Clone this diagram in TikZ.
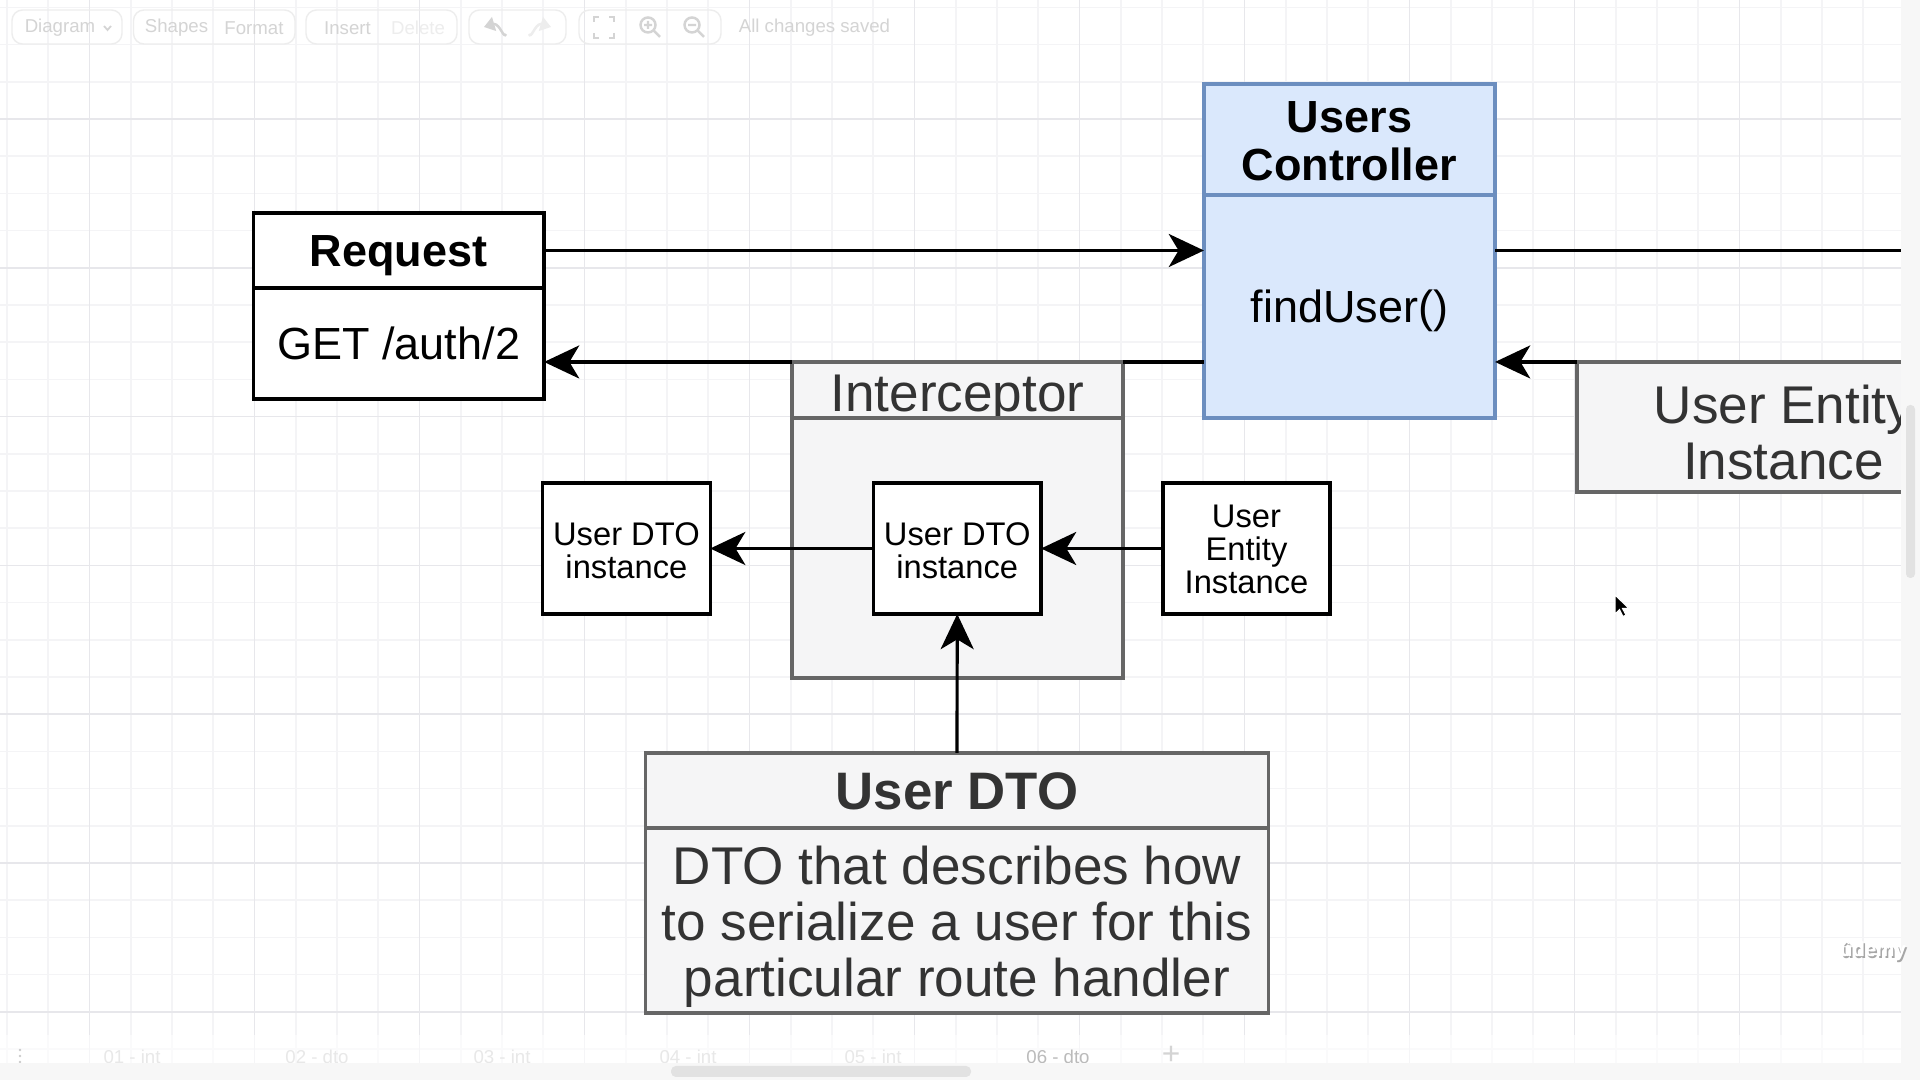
\documentclass[tikz,border=0pt]{standalone}
\usepackage{fontspec}
\setmainfont{Liberation Sans}
\usetikzlibrary{arrows.meta,calc,positioning}
\definecolor{ctrlfill}{HTML}{DAE8FC}
\definecolor{ctrldraw}{HTML}{6C8EBF}
\definecolor{greyfill}{HTML}{F5F5F6}
\definecolor{greydraw}{HTML}{666666}
\definecolor{greytext}{HTML}{333333}
\definecolor{gridminor}{HTML}{F4F4F6}
\definecolor{gridmajor}{HTML}{E7E7EB}
\definecolor{uitext}{HTML}{D4D4D4}
\definecolor{uifaint}{HTML}{EDEDED}
\definecolor{tabcur}{HTML}{BBBBBB}
\definecolor{barfill}{HTML}{F7F7F7}
\definecolor{thumbfill}{HTML}{E2E2E2}
\tikzset{
    mybox/.style={draw=black,fill=white,line width=0.95pt,outer sep=0pt,inner sep=0pt,align=center,text depth=0pt},
    mygrey/.style={draw=greydraw,fill=greyfill,text=greytext,line width=0.95pt,outer sep=0pt,inner sep=0pt,align=center,text depth=0pt},
    myctrl/.style={draw=ctrldraw,fill=ctrlfill,line width=0.95pt,outer sep=0pt,inner sep=0pt,align=center,text depth=0pt},
    myarrow/.style={line width=0.9pt,-{Stealth[length=10pt,width=9.4pt,inset=2.8pt]}},
    myline/.style={line width=0.9pt},
    bigfont/.style={font=\fontsize{12.8}{13.9}\selectfont,text height=9.2pt},
    bigbold/.style={font=\fontsize{12.8}{13.9}\selectfont\bfseries,text height=9.2pt},
    hugefont/.style={font=\fontsize{15.1}{15.9}\selectfont,text height=10.8pt},
    hugebold/.style={font=\fontsize{15}{15.9}\selectfont\bfseries,text height=10.8pt},
    smallfont/.style={font=\fontsize{9.3}{9.4}\selectfont,text height=17.2pt},
    uifont/.style={font=\fontsize{5.3}{6}\selectfont,text=uitext,inner sep=0pt},
    uibutton/.style={draw=uifaint,line width=0.4pt},
    uiicon/.style={draw=uitext,line width=0.7pt}
}
\begin{document}
\begin{tikzpicture}[x=0.01cm,y=-0.01cm]
  \useasboundingbox (0,0) rectangle (1920,1080);
  \fill[white] (0,0) rectangle (1920,1080);
  % canvas grid
  \begin{scope}
    \clip (0,0) rectangle (1901,1063);
    \foreach \k in {0,...,46} \draw[gridminor,line width=0.5pt] ({7+41.25*\k},0) -- ++(0,1063);
    \foreach \k in {0,...,28} \draw[gridminor,line width=0.5pt] (0,{7.4+37.2*\k}) -- ++(1901,0);
    \foreach \k in {0,...,11} \draw[gridmajor,line width=0.5pt] ({89.5+165*\k},0) -- ++(0,1063);
    \foreach \k in {0,...,6} \draw[gridmajor,line width=0.5pt] (0,{119+148.8*\k}) -- ++(1901,0);
  \end{scope}

  % editor toolbar
  \foreach \a/\b in {12/122,133.5/295,306/457,469/566,579/721}
    \draw[uibutton,rounded corners=3pt] (\a,10) rectangle (\b,44);
  \node[uifont] (mDiagram) at (60,28) {Diagram};
  \draw[uiicon,line width=0.5pt] (104,26) -- (107.5,30) -- (111,26);
  \node[uifont] (mShapes) at (176.5,28) {Shapes};
  \node[uifont] (mFormat) at (254,28) {Format};
  \node[uifont] (mInsert) at (347.5,28) {Insert};
  \node[uifont,text=uifaint] (mDelete) at (418,28) {Delete};
  \draw[uiicon,-{Triangle[length=3pt,width=4pt]}] (506,34) to[out=-110,in=0] (494,24) -- (484,27);
  \draw[uiicon,draw=uifaint,-{Triangle[length=3pt,width=4pt]}] (529,34) to[out=-70,in=180] (541,24) -- (551,27);
  \draw[uiicon] (594,22) -- (594,17) -- (599,17) (609,17) -- (614,17) -- (614,22)
                (614,33) -- (614,38) -- (609,38) (599,38) -- (594,38) -- (594,33);
  \draw[uiicon] (648,25) circle (7.5) (653.5,30.5) -- (660,37) (644,25) -- (652,25) (648,21) -- (648,29);
  \draw[uiicon] (692,25) circle (7.5) (697.5,30.5) -- (704,37) (688,25) -- (696,25);
  \node[uifont] (mSaved) at (814.5,28) {All changes saved};

  % main diagram
  \node[mybox,bigbold,minimum width=2.905cm,minimum height=0.75cm] (req) at (398.75,250.5) {Request};
  \node[mybox,bigfont,minimum width=2.905cm,minimum height=1.11cm,below=0pt of req] (reqbody) {GET /auth/2};

  \node[myctrl,bigbold,text height=23.6pt,minimum width=2.91cm,minimum height=1.11cm] (ctrl) at (1349.5,139.5) {Users\\Controller};
  \node[myctrl,bigfont,minimum width=2.91cm,minimum height=2.23cm,below=0pt of ctrl] (ctrlbody) {findUser()};

  \node[mygrey,hugefont,text height=12.2pt,minimum width=3.31cm,minimum height=0.56cm] (icpt) at (957.5,390) {Interceptor};
  \node[mygrey,minimum width=3.31cm,minimum height=2.60cm,below=0pt of icpt] (icptbody) {};

  \node[mybox,smallfont,minimum width=1.675cm,minimum height=1.31cm] (dtoin) at (957.25,548.5) {User DTO\\instance};
  \node[mybox,smallfont,minimum width=1.675cm,minimum height=1.31cm] (dtoout) at (626.4,548.5) {User DTO\\instance};
  \node[mybox,smallfont,text height=25.4pt,minimum width=1.67cm,minimum height=1.31cm] (entsm) at (1246.5,548.5) {User\\Entity\\Instance};

  \node[mygrey,hugebold,minimum width=6.22cm,minimum height=0.75cm] (dto) at (957,790.5) {User DTO};
  \node[mygrey,hugefont,text height=43pt,minimum width=6.22cm,minimum height=1.85cm,below=0pt of dto] (dtobody)
    {DTO that describes how\\to serialize a user for this\\particular route handler};

  \begin{scope}
    \clip (0,0) rectangle (1901,1063);
    \node[mygrey,hugefont,text height=30.1pt,minimum width=4.13cm,minimum height=1.30cm] (entbig) at (1783.5,427) {User Entity\\Instance};
  \end{scope}

  \coordinate (exitR) at (1901,250.5);
  \draw[myarrow] (req.east) -- (req.east -| ctrlbody.west);
  \draw[myline] (req.east -| ctrlbody.east) -- (exitR);
  \draw[myarrow] (entbig.north west) -- (entbig.north west -| ctrlbody.east);
  \draw[myline] (icpt.north -| ctrlbody.west) -- (icpt.north east);
  \draw[myarrow] (icpt.north west) -- (icpt.north -| reqbody.east);
  \draw[myarrow] (entsm.west) -- (dtoin.east);
  \draw[myarrow] (dtoin.west) -- (dtoout.east);
  \draw[myarrow] (dto.north) -- (dtoin.south);

  % mouse pointer
  \filldraw[fill=black,draw=white,line width=0.3pt] (1615,595) -- ++(0,19) -- ++(4.5,-4.5) -- ++(3.5,7)
    -- ++(3,-1.5) -- ++(-3.5,-6.5) -- ++(6.5,0) -- cycle;

  % page tabs and scroll bars
  \fill[white,opacity=0.6] (0,1035) rectangle (1901,1063);
  \fill[black!80,opacity=0.25] (20,1050) circle (1.3) (20,1056) circle (1.3) (20,1062) circle (1.3);
  \foreach \x/\t [count=\i] in {132/01 - int,317/02 - dto,502/03 - int,688/04 - int,873/05 - int}
    \node[uifont,text=uifaint!80!uitext] (tab\i) at (\x,1057) {\t};
  \node[uifont,text=tabcur] (tab6) at (1058,1057) {06 - dto};
  \node[uifont,text=uitext,font=\fontsize{9}{9}\selectfont] (tabadd) at (1171,1055) {+};
  \fill[barfill] (0,1063) rectangle (1920,1080);
  \fill[barfill] (1901,0) rectangle (1920,1080);
  \fill[thumbfill,rounded corners=1.4pt] (671,1066) rectangle (971,1077);
  \fill[thumbfill,rounded corners=1.2pt] (1906,405) rectangle (1915,578);

  % watermark
  \node[font=\fontsize{5.8}{6}\selectfont\bfseries,text=black!35,inner sep=0pt] (wmshadow) at (1874.5,953) {ûdemy};
  \node[font=\fontsize{5.8}{6}\selectfont\bfseries,text=white,inner sep=0pt] (wm) at (1873,951) {ûdemy};
\end{tikzpicture}
\end{document}
